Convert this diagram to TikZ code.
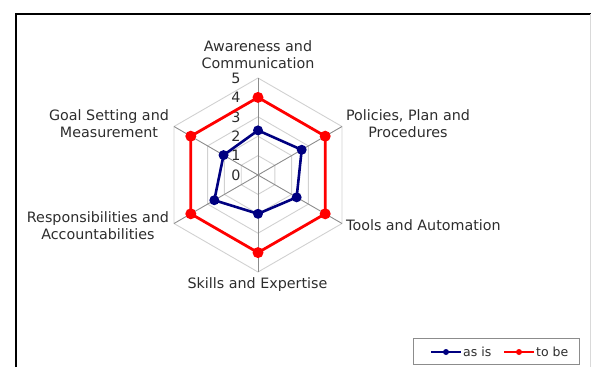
\documentclass[tikz,border=0pt]{standalone}
\usepackage{fontspec}
\setmainfont{DejaVu Sans}
\usetikzlibrary{calc}
\definecolor{asis}{RGB}{0,0,128}
\definecolor{tobe}{RGB}{255,0,0}
\definecolor{txt}{RGB}{45,45,45}
\begin{document}
\begin{tikzpicture}[x=1pt,y=1pt,
  ring/.style={draw=black!18,line width=0.9pt},
  axisline/.style={draw=black!45,line width=0.9pt},
  lbl/.style={font=\fontsize{14.3}{17}\selectfont,text=txt,align=center,inner sep=0pt},
  num/.style={font=\fontsize{14.3}{16}\selectfont,text=txt,inner sep=0pt},
  asisline/.style={draw=asis,line width=2.6pt,line join=round},
  tobeline/.style={draw=tobe,line width=2.8pt,line join=round},
  asisdot/.style={circle,fill=asis,inner sep=0pt,minimum size=10pt},
  tobedot/.style={circle,fill=tobe,inner sep=0pt,minimum size=11pt},
  legtext/.style={font=\fontsize{12.5}{14}\selectfont,text=txt,inner sep=0pt,anchor=west}]
\useasboundingbox (0,0) rectangle (591,-367);
% frame
\coordinate (f1) at (16,-367);
\coordinate (f2) at (16,-14);
\coordinate (f3) at (591,-14);
\draw[black,line width=2pt] (f1) -- (f2) -- (f3);
\coordinate (r1) at (590,-14);
\coordinate (r2) at (590,-367);
\draw[black!15,line width=0.8pt] (r1) -- (r2);
% center
\coordinate (C) at (258,-175);
\def\u{19.4}
% rings
\foreach \k in {1,...,5}{
  \draw[ring] ($(C)+(90:\k*\u)$) \foreach \a in {30,-30,-90,-150,150}{ -- ($(C)+(\a:\k*\u)$)} -- cycle;
}
% axes
\foreach \a/\n in {90/a1,30/a2,-30/a3,-90/a4,-150/a5,150/a6}{
  \coordinate (\n) at ($(C)+(\a:5*\u)$);
  \draw[axisline] (C) -- (\n);
}
% scale numbers
\foreach \k in {0,...,5}{
  \node[num] (n\k) at (236,{-175+\k*\u}) {\k};
}
% to be
\foreach \a/\n in {90/t1,30/t2,-30/t3,-90/t4,-150/t5,150/t6}{
  \coordinate (\n) at ($(C)+(\a:4*\u)$);
}
\draw[tobeline] (t1) -- (t2) -- (t3) -- (t4) -- (t5) -- (t6) -- cycle;
\foreach \n in {t1,t2,t3,t4,t5,t6}{\node[tobedot] at (\n) {};}
% as is
\foreach \a/\v/\n in {90/2.3/s1,30/2.6/s2,-30/2.3/s3,-90/2.0/s4,-150/2.6/s5,150/2.05/s6}{
  \coordinate (\n) at ($(C)+(\a:\v*\u)$);
}
\draw[asisline] (s1) -- (s2) -- (s3) -- (s4) -- (s5) -- (s6) -- cycle;
\foreach \n in {s1,s2,s3,s4,s5,s6}{\node[asisdot] at (\n) {};}
% category labels
\node[lbl] (L1) at (258,-54.5) {Awareness and\\Communication};
\node[lbl] (L2) at (408,-124) {Policies, Plan and\\Procedures};
\node[lbl,anchor=west] (L3) at (346,-225) {Tools and Automation};
\node[lbl] (L4) at (257.5,-285) {Skills and Expertise};
\node[lbl] (L5) at (98,-225.5) {Responsibilities and\\Accountabilities};
\node[lbl] (L6) at (109,-124) {Goal Setting and\\Measurement};
% legend
\node[draw=black!45,line width=0.8pt,minimum width=166pt,minimum height=26pt,inner sep=0pt] (leg) at (496,-351) {};
\coordinate (la) at (431,-352);
\coordinate (lb) at (461,-352);
\draw[draw=asis,line width=2.2pt] (la) -- (lb);
\node[circle,fill=asis,inner sep=0pt,minimum size=6pt] (lam) at (446,-352) {};
\node[legtext] (lat) at (463,-352) {as is};
\coordinate (lc) at (504,-352);
\coordinate (ld) at (534,-352);
\draw[draw=tobe,line width=2.2pt] (lc) -- (ld);
\node[circle,fill=tobe,inner sep=0pt,minimum size=6pt] (lcm) at (519,-352) {};
\node[legtext] (lct) at (536,-352) {to be};
\end{tikzpicture}
\end{document}
